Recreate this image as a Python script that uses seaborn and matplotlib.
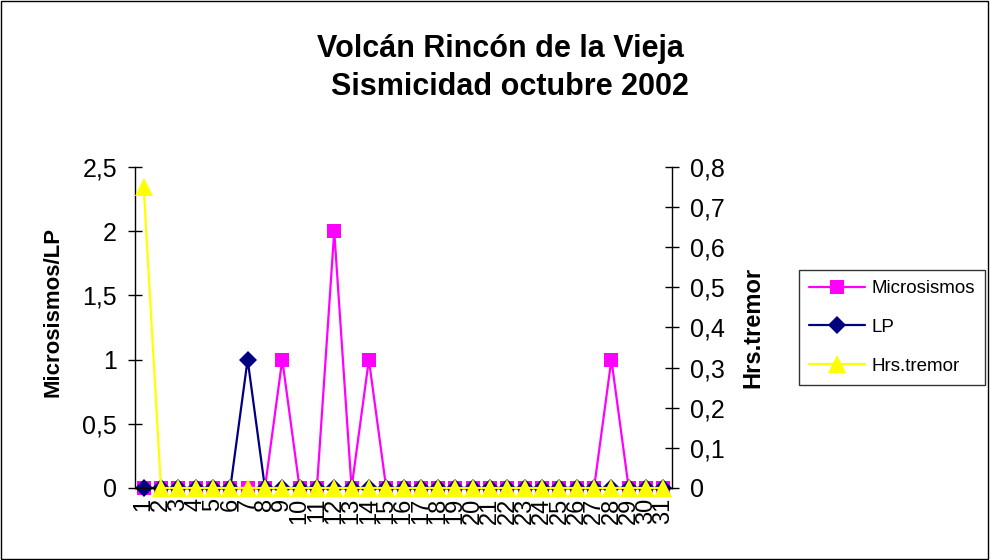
import numpy as np
import pandas as pd
import seaborn as sns
import matplotlib.pyplot as plt
from matplotlib.patches import Rectangle

sns.set_style("white")
plt.rcParams['font.family'] = ['Liberation Sans', 'DejaVu Sans']
plt.rcParams['text.color'] = 'black'
plt.rcParams['axes.labelcolor'] = 'black'
plt.rcParams['xtick.color'] = 'black'
plt.rcParams['ytick.color'] = 'black'

days = list(range(1, 32))
microsismos = [0] * 31
microsismos[8] = 1
microsismos[11] = 2
microsismos[13] = 1
microsismos[27] = 1
lp = [0] * 31
lp[6] = 1
tremor = [0] * 31
tremor[0] = 0.75

df = pd.DataFrame({"dia": days, "Microsismos": microsismos, "LP": lp, "Hrs.tremor": tremor})

fig = plt.figure(figsize=(9.9, 5.6), dpi=100)
ax = fig.add_axes([0.1364, 0.1286, 0.5424, 0.5732])
ax2 = ax.twinx()

sns.lineplot(data=df, x="dia", y="Microsismos", ax=ax, color="#FF00FF", marker="s",
             markersize=10, markeredgewidth=0, linewidth=1.6, label="Microsismos", legend=False)
sns.lineplot(data=df, x="dia", y="LP", ax=ax, color="#000080", marker="D",
             markersize=9.5, markeredgewidth=0, linewidth=1.6, label="LP", legend=False)
sns.lineplot(data=df, x="dia", y="Hrs.tremor", ax=ax2, color="#FFFF00", marker="^",
             markersize=13, markeredgewidth=0, linewidth=1.6, label="Hrs.tremor", legend=False)
for a in (ax, ax2):
    for ln in a.get_lines():
        ln.set_clip_on(False)

ax.set_xlim(0.5, 31.5)
ax.set_ylim(0, 2.5)
ax2.set_ylim(0, 0.8)

ax.set_xticks(days)
ax.set_xticklabels([str(d) for d in days], rotation=90, fontsize=17)
ax.set_xticks(np.arange(0.5, 32, 1), minor=True)
ax.tick_params(axis="x", which="major", length=0, pad=7)
ax.tick_params(axis="x", which="minor", length=10, direction="inout", width=1, color="black")

yt = [0, 0.5, 1, 1.5, 2, 2.5]
ax.set_yticks(yt)
ax.set_yticklabels(["0", "0,5", "1", "1,5", "2", "2,5"], fontsize=18)
ax.tick_params(axis="y", length=10, direction="inout", width=1, color="black", pad=8)

yt2 = [i / 10 for i in range(9)]
ax2.set_yticks(yt2)
ax2.set_yticklabels(["0"] + [f"0,{i}" for i in range(1, 9)], fontsize=18)
ax2.tick_params(axis="y", length=10, direction="inout", width=1, color="black", pad=8)

for a in (ax, ax2):
    a.spines["top"].set_visible(False)
    for s in ("left", "right", "bottom"):
        a.spines[s].set_color("black")
        a.spines[s].set_linewidth(1)
ax.spines["right"].set_visible(False)
ax2.spines["left"].set_visible(False)
ax2.spines["bottom"].set_visible(False)

ax.set_xlabel("")
ax.set_ylabel("Microsismos/LP", fontsize=16, fontweight="bold")
ax.yaxis.set_label_coords(-0.134, 0.548)
ax2.set_ylabel("Hrs.tremor", fontsize=17, fontweight="bold")
ax2.yaxis.set_label_coords(1.130, 0.5)
ax2.set_zorder(ax.get_zorder() + 1)
ax2.patch.set_visible(False)

fig.text(0.505, 1 - 57 / 560, "Volcán Rincón de la Vieja", ha="center",
         va="baseline", fontsize=22, fontweight="bold")
fig.text(0.515, 1 - 95 / 560, "Sismicidad octubre 2002", ha="center",
         va="baseline", fontsize=22, fontweight="bold")

h1, l1 = ax.get_legend_handles_labels()
h2, l2 = ax2.get_legend_handles_labels()
leg = fig.legend(h1 + h2, l1 + l2, loc="upper left", bbox_to_anchor=(0.807, 0.518),
                 frameon=True, fancybox=False, edgecolor="black", fontsize=13.5,
                 handlelength=3.0, handletextpad=0.3, borderpad=0.55, labelspacing=1.15,
                 borderaxespad=0)
leg.get_frame().set_linewidth(1)

fig.patches.append(Rectangle((0.001, 0.001), 0.997, 0.997, transform=fig.transFigure,
                             fill=False, edgecolor="black", linewidth=1))

fig.savefig("out.png", dpi=100)
